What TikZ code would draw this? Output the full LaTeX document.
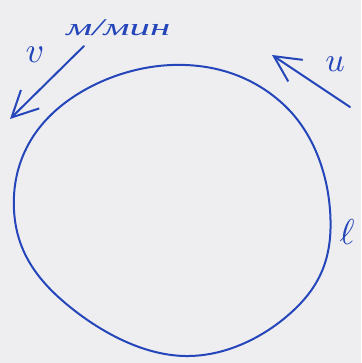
\documentclass[tikz,border=0pt]{standalone}
\usepackage{graphicx}
\usepackage{fontspec}
\setmainfont{Liberation Serif}
\usetikzlibrary{arrows.meta,positioning}
\definecolor{ink}{RGB}{36,70,186}
\definecolor{paper}{RGB}{238,238,240}
\tikzset{
  ring/.style={draw=ink,line width=2pt,line join=round},
  arr/.style={-{Straight Barb[length=26pt,width=26pt,line width=2pt]},line width=2pt,ink,line cap=round},
  lbl/.style={text=ink,inner sep=0pt},
}
\newcommand{\bigsym}[2]{\scalebox{#1}{$#2$}}

\begin{document}
\begin{tikzpicture}[x=1pt,y=-1pt]
  \fill[paper] (0,0) rectangle (361,363);
  \useasboundingbox (0,0) rectangle (361,363);
  % the disk, drawn by hand
  \draw[ring] plot[smooth cycle,tension=0.68] coordinates {
    (172,65) (283,104) (330,210) (298,306) (185,356) (64,302) (14,210) (54,112)};
  % speed arrow, top left
  \coordinate (vtail) at (84,46);
  \coordinate (vtip) at (10,119);
  \draw[arr] (vtail) -- (vtip);
  \node[lbl] (v) at (35,55) {\bigsym{3.6}{v}};
  \node[lbl,font=\itshape\fontsize{24}{24}\selectfont,xscale=1.7,anchor=base west] (unit) at (66,36) {м/мин};
  % rotation arrow, top right
  \coordinate (utail) at (350,107);
  \coordinate (utip) at (272,55);
  \draw[arr] (utail) -- (utip);
  \node[lbl] (u) at (335,64) {\bigsym{3.4}{u}};
  % length mark
  \node[lbl] (len) at (347,232) {\bigsym{3.6}{\ell}};
\end{tikzpicture}
\end{document}
